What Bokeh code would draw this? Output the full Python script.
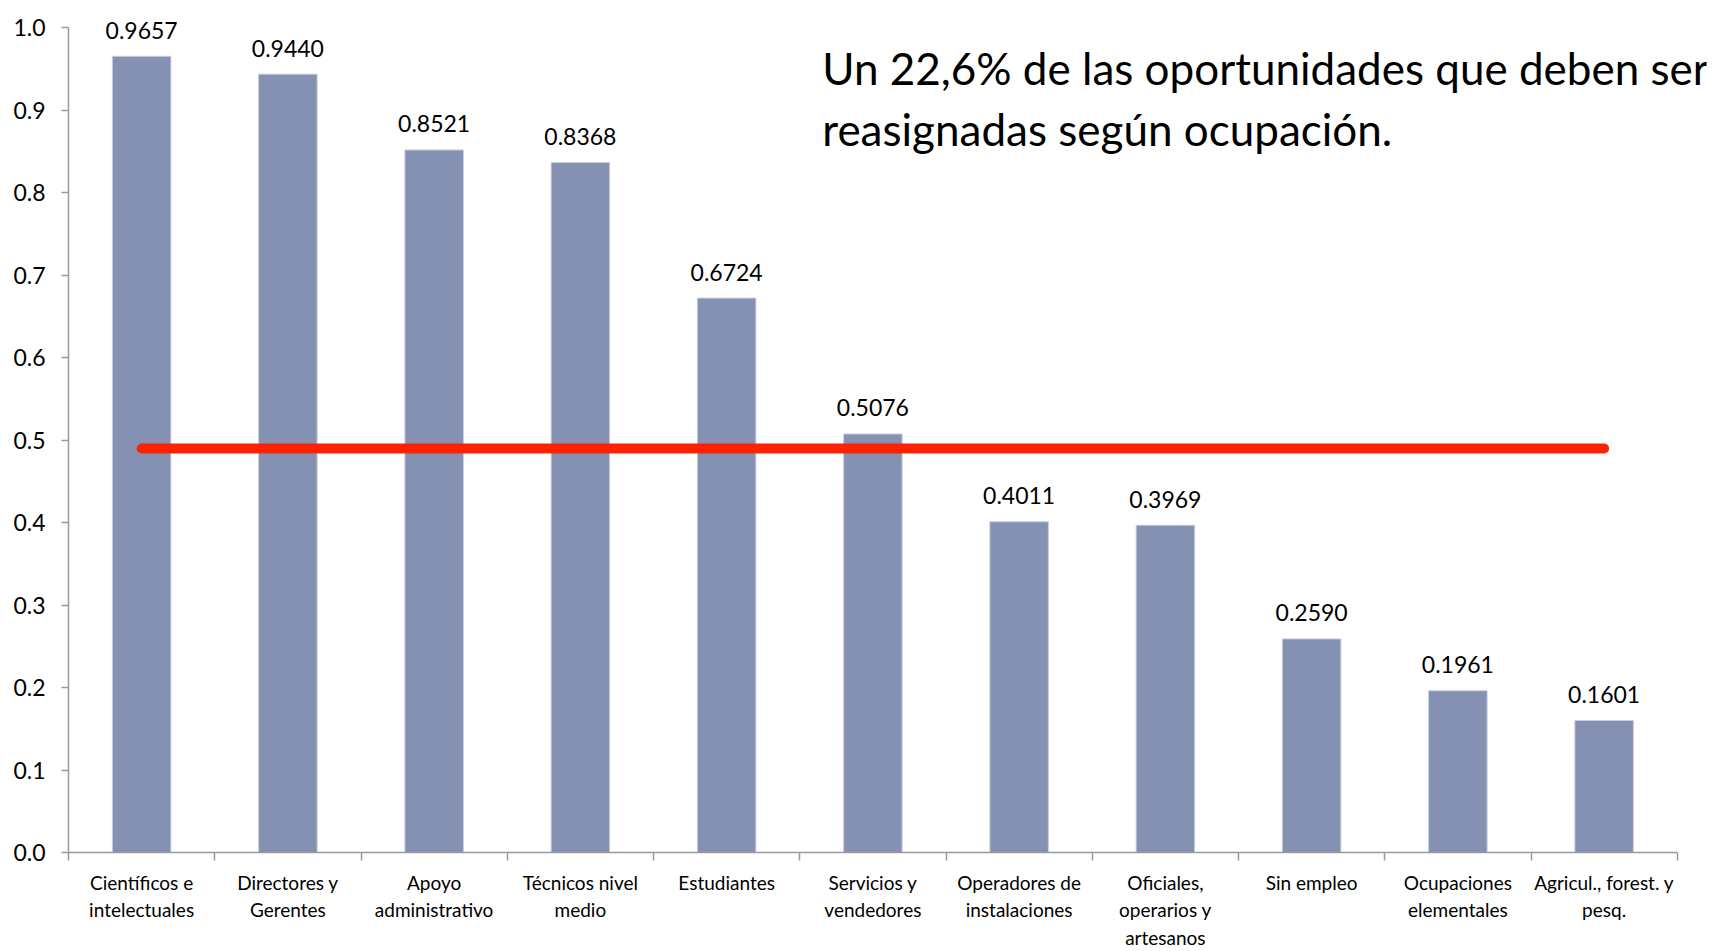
from bokeh.plotting import figure
from bokeh.models import Range1d, FixedTicker, PrintfTickFormatter, Label
from bokeh.core.properties import value
from bokeh.embed import file_html
from bokeh.resources import INLINE

categories = [
    "Científicos e\nintelectuales",
    "Directores y\nGerentes",
    "Apoyo\nadministrativo",
    "Técnicos nivel\nmedio",
    "Estudiantes",
    "Servicios y\nvendedores",
    "Operadores de\ninstalaciones",
    "Oficiales,\noperarios y\nartesanos",
    "Sin empleo",
    "Ocupaciones\nelementales",
    "Agricul., forest. y\npesq.",
]
values = [0.9657, 0.9440, 0.8521, 0.8368, 0.6724, 0.5076, 0.4011, 0.3969, 0.2590, 0.1961, 0.1601]
value_labels = ["0.9657", "0.9440", "0.8521", "0.8368", "0.6724", "0.5076", "0.4011", "0.3969", "0.2590", "0.1961", "0.1601"]
threshold = 0.49
y_ticks = [0.0, 0.1, 0.2, 0.3, 0.4, 0.5, 0.6, 0.7, 0.8, 0.9, 1.0]
title_lines = ["Un 22,6% de las oportunidades que deben ser", "reasignadas según ocupación."]

FONT = "Lato"
n = len(categories)
centers = [i + 0.5 for i in range(n)]
bounds = [float(i) for i in range(n + 1)]

p = figure(width=1710, height=951, output_backend="svg", toolbar_location=None,
           x_range=Range1d(0, n + 0.2), y_range=Range1d(0, 1.02),
           min_border_left=68, min_border_right=4, min_border_top=11, min_border_bottom=89)
p.xgrid.visible = False
p.ygrid.visible = False
p.outline_line_color = None
p.background_fill_color = "white"
p.border_fill_color = "white"

p.vbar(x=centers, top=values, width=0.4, bottom=0,
       fill_color="#8491B2", line_color="#C8CDE0", line_width=1)

p.text(x=centers, y=values, text=value_labels, text_align="center",
       text_baseline="alphabetic", y_offset=-26, text_font=value(FONT),
       text_font_size="23px", text_color="black")

p.line(x=[centers[0], centers[-1]], y=[threshold, threshold],
       line_color="#FF2200", line_width=10, line_cap="round")

# x axis
xa = p.xaxis[0]
xa.ticker = FixedTicker(ticks=centers, minor_ticks=bounds)
xa.major_label_overrides = {c: lab for c, lab in zip(centers, categories)}
xa.bounds = (0, n)
xa.axis_line_color = "#9A9A9A"
xa.axis_line_width = 1.5
xa.major_tick_line_color = None
xa.major_tick_in = 0
xa.major_tick_out = 0
xa.minor_tick_line_color = "#9A9A9A"
xa.minor_tick_line_width = 1.5
xa.minor_tick_in = 0
xa.minor_tick_out = 8
xa.major_label_standoff = 10
xa.major_label_text_font = FONT
xa.major_label_text_font_size = "19px"
xa.major_label_text_color = "black"
xa.major_label_text_align = "center"

# y axis
ya = p.yaxis[0]
ya.ticker = FixedTicker(ticks=y_ticks, minor_ticks=[])
ya.formatter = PrintfTickFormatter(format="%.1f")
ya.bounds = (0, 1.0)
ya.axis_line_color = "#9A9A9A"
ya.axis_line_width = 1.5
ya.major_tick_line_color = "#9A9A9A"
ya.major_tick_line_width = 1.5
ya.major_tick_in = 0
ya.major_tick_out = 7
ya.minor_tick_line_color = None
ya.major_label_standoff = 16
ya.major_label_text_font = FONT
ya.major_label_text_font_size = "23px"
ya.major_label_text_color = "black"

for line, yv in zip(title_lines, [0.952, 0.877]):
    p.add_layout(Label(x=5.154, y=yv, text=line, text_font=FONT, text_font_size="44px",
                       text_color="black", text_baseline="alphabetic", text_align="left"))

open("out.html", "w").write(file_html(p, INLINE))
